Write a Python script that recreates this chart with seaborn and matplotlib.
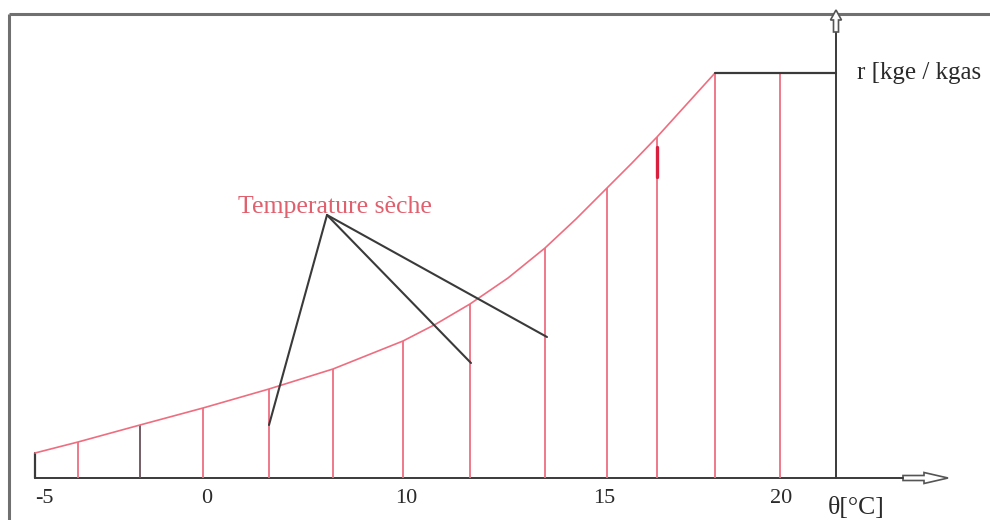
import numpy as np
import matplotlib
matplotlib.use("Agg")
import matplotlib.pyplot as plt
import matplotlib.patches as mpatches
import seaborn as sns

# Croquis r = f(theta) : unites du dessin (x le long de l'axe, r au-dessus de la base)
curve_x = [35, 78, 140, 203, 269, 333, 403, 436, 470, 508, 545, 576, 607, 632, 657, 686, 715]
curve_r = [25, 36, 53, 70, 89, 109, 137, 154, 174, 200, 230, 259, 290, 315, 341, 373, 405]
vline_x = [78, 140, 203, 269, 333, 403, 470, 545, 607, 657, 715, 780]
vline_top = [36, 53, 70, 89, 109, 137, 174, 230, 290, 341, 405, 405]
plateau_x = [715, 836]
plateau_r = 405

tick_pos = [44, 207, 406, 604, 781]
tick_labels = ["-5", "0", "10", "15", "20"]

# lignes de rappel "Temperature sèche"
leader_apex = (327, 263)
leader_ends_x = [269, 471, 547]
leader_ends_r = [53, 115, 141]

sns.set_theme(style="white")
plt.rcParams['font.family'] = ['Liberation Serif', 'DejaVu Serif']

fig = plt.figure(figsize=(9.9, 5.2), dpi=100)
ax = fig.add_axes([0, 0, 1, 1])
ax.set_xlim(0, 990)
ax.set_ylim(-42, 478)
ax.axis('off')

red_line = '#ee6e80'
red_text = '#e0606e'
dark = '#3a3a3a'

# cadre
ax.plot([9, 990], [464, 464], color='#707070', lw=2.2, solid_capstyle='butt')
ax.plot([9, 9], [464, -42], color='#707070', lw=2.2, solid_capstyle='butt')

# axe des abscisses + fleche creuse
ax.plot([curve_x[0], 903], [0, 0], color=dark, lw=1.4)
ax.add_patch(mpatches.FancyArrow(903, 0, 45, 0, width=5, head_width=11,
                                  head_length=24, length_includes_head=True,
                                  fc='white', ec='#555555', lw=1.2))
# axe des ordonnees + fleche creuse
ax.plot([plateau_x[1], plateau_x[1]], [0, 446], color=dark, lw=1.4)
ax.add_patch(mpatches.FancyArrow(plateau_x[1], 446, 0, 22, width=5, head_width=11,
                                  head_length=10, length_includes_head=True,
                                  fc='white', ec='#555555', lw=1.2, zorder=5))

# petit trait noir a gauche
ax.plot([curve_x[0], curve_x[0]], [0, curve_r[0]], color=dark, lw=1.6)

# verticales
colors = [red_line] * len(vline_x)
colors[1] = '#6a5058'
ax.vlines(vline_x, 0, vline_top, colors=colors, lw=1.3)

# courbe
sns.lineplot(x=curve_x, y=curve_r, color=red_line, lw=1.2, ax=ax, sort=False)
# palier
ax.plot(plateau_x, [plateau_r, plateau_r], color=dark, lw=1.6)

# petit trait rouge epais
ax.plot([657, 657], [301, 331], color='#d8203e', lw=2.4)

# lignes de rappel
for ex, er in zip(leader_ends_x, leader_ends_r):
    ax.plot([leader_apex[0], ex], [leader_apex[1], er], color=dark, lw=1.5)

ax.text(238, 271, "Temperature sèche", color=red_text, fontsize=18.5,
        ha='left', va='center')
ax.text(857, plateau_r, "r [kge / kgas", color='#2a2a2a', fontsize=18,
        ha='left', va='center')

for p, lab in zip(tick_pos, tick_labels):
    ax.text(p, -25, lab, color='#2a2a2a', fontsize=16, ha='center', va='baseline')
ax.text(856, -36, "θ[°C]", color='#2a2a2a', fontsize=18.5, ha='center', va='baseline')

fig.savefig("out.png", dpi=100)
